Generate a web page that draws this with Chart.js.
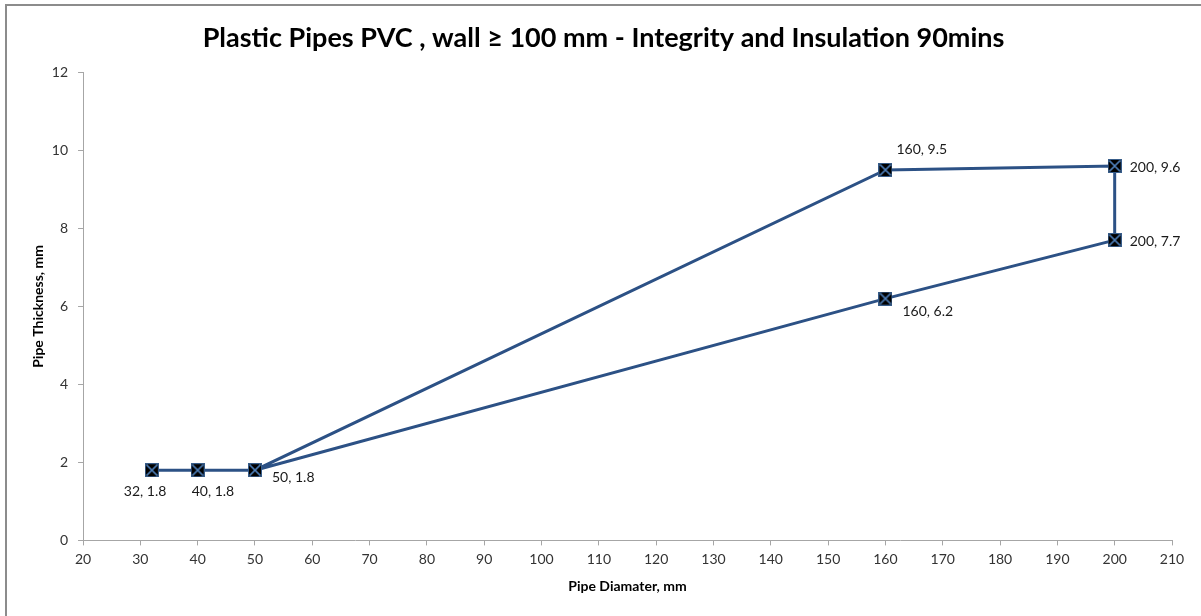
<!DOCTYPE html>
<html>
<head>
<meta charset="utf-8">
<script src="https://cdn.jsdelivr.net/npm/chart.js@4"></script>
<style>
  body { margin: 0; background: #fff; }
</style>
</head>
<body>
<canvas id="myChart" width="1201" height="616"></canvas>
<script>
// Datos del gráfico
const diameters = [32, 40, 50, 160, 200, 200, 160, 50]
const thickness = [1.8, 1.8, 1.8, 9.5, 9.6, 7.7, 6.2, 1.8]
const pointLabels = ['32, 1.8', '40, 1.8', '50, 1.8', '160, 9.5', '200, 9.6', '200, 7.7', '160, 6.2', '']
const xTicks = [20, 30, 40, 50, 60, 70, 80, 90, 100, 110, 120, 130, 140, 150, 160, 170, 180, 190, 200, 210]
const yTicks = [0, 2, 4, 6, 8, 10, 12]
const chartTitle = 'Plastic Pipes PVC , wall ≥ 100 mm - Integrity and Insulation 90mins'

// Desplazamiento de cada etiqueta respecto al punto
const labelOffsets = [[-28, 21], [-6, 21], [17, 7], [11, -20], [15, 1], [15, 1], [17, 13], [0, 0]]

const FONT = 'Lato, "Open Sans", sans-serif'

// Marcador: cuadrado negro con una X azul
const makeMarker = _ => {
  const c = document.createElement('canvas')
  c.width = 14
  c.height = 14
  const ctx = c.getContext('2d')
  ctx.fillStyle = '#000'
  ctx.fillRect(0, 0, 14, 14)
  ctx.strokeStyle = '#4f81bd'
  ctx.lineWidth = 1.7
  ctx.beginPath()
  ctx.moveTo(1.5, 1.5); ctx.lineTo(12.5, 12.5)
  ctx.moveTo(12.5, 1.5); ctx.lineTo(1.5, 12.5)
  ctx.stroke()
  ctx.strokeStyle = '#385d8a'
  ctx.lineWidth = 1
  ctx.strokeRect(0.5, 0.5, 13, 13)
  return c
}

// Borde exterior del gráfico
const frame = {
  id: 'frame',
  beforeDraw: chart => {
    const ctx = chart.ctx
    ctx.save()
    ctx.strokeStyle = '#8c8c8c'
    ctx.lineWidth = 2
    ctx.beginPath()
    ctx.moveTo(6, 620)
    ctx.lineTo(6, 5)
    ctx.lineTo(1210, 5)
    ctx.stroke()
    ctx.restore()
  }
}

// Título centrado en el lienzo (el título del plugin sólo reserva el espacio)
const centeredTitle = {
  id: 'centeredTitle',
  afterDraw: chart => {
    const tb = chart.titleBlock
    const ctx = chart.ctx
    ctx.save()
    ctx.font = 'bold 27px ' + FONT
    ctx.fillStyle = '#000'
    ctx.textAlign = 'center'
    ctx.textBaseline = 'middle'
    ctx.fillText(chartTitle, chart.width / 2 + 3, tb.top + 22 + 16)
    ctx.restore()
  }
}

// Etiquetas de datos
const dataLabels = {
  id: 'dataLabels',
  afterDatasetsDraw: chart => {
    const ctx = chart.ctx
    const meta = chart.getDatasetMeta(0)
    ctx.save()
    ctx.font = '14px ' + FONT
    ctx.fillStyle = '#1a1a1a'
    ctx.textAlign = 'left'
    ctx.textBaseline = 'middle'
    meta.data.forEach((pt, i) => {
      if (!pointLabels[i]) return
      const [dx, dy] = labelOffsets[i]
      ctx.fillText(pointLabels[i], pt.x + dx, pt.y + dy)
    })
    ctx.restore()
  }
}

const axisGrid = {
  display: true,
  drawOnChartArea: false,
  drawTicks: true,
  tickLength: 5,
  color: '#a6a6a6'
}

const config = {
  type: 'scatter',
  data: {
    datasets: [{
      label: 'PVC',
      data: diameters.map((d, i) => ({x: d, y: thickness[i]})),
      showLine: true,
      tension: 0,
      borderColor: '#2c5185',
      borderWidth: 3,
      pointStyle: makeMarker(),
      pointRadius: 7,
      pointHoverRadius: 7
    }]
  },
  options: {
    responsive: false,
    animation: false,
    layout: {
      padding: {left: 25, right: 29, top: 0, bottom: 17}
    },
    plugins: {
      legend: {display: false},
      tooltip: {enabled: false},
      title: {
        display: true,
        text: chartTitle,
        color: 'rgba(0,0,0,0)',
        font: {family: FONT, size: 27, weight: 'bold'},
        padding: {top: 22, bottom: 18}
      }
    },
    scales: {
      x: {
        type: 'linear',
        min: 20,
        max: 210,
        afterBuildTicks: axis => { axis.ticks = xTicks.map(v => ({value: v})) },
        grid: axisGrid,
        border: {display: true, color: '#a6a6a6', width: 1},
        ticks: {color: '#333', font: {family: FONT, size: 14}, padding: 6},
        title: {display: true, text: 'Pipe Diamater, mm', color: '#000', font: {family: FONT, size: 14, weight: 'bold'}, padding: {top: 4}}
      },
      y: {
        type: 'linear',
        min: 0,
        max: 12,
        afterBuildTicks: axis => { axis.ticks = yTicks.map(v => ({value: v})) },
        grid: axisGrid,
        border: {display: true, color: '#a6a6a6', width: 1},
        ticks: {color: '#333', font: {family: FONT, size: 14}, padding: 10},
        title: {display: true, text: 'Pipe Thickness, mm', color: '#000', font: {family: FONT, size: 14, weight: 'bold'}, padding: {top: 5, bottom: -5}}
      }
    }
  },
  plugins: [frame, dataLabels, centeredTitle]
}

const ctx = document.getElementById('myChart')
const myChart = new Chart(ctx, config)
</script>
</body>
</html>
